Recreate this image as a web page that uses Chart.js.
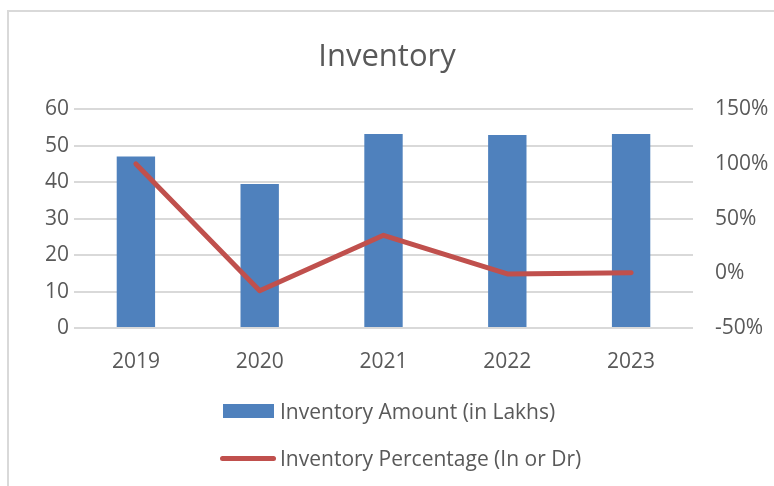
<!DOCTYPE html>
<html lang="en">
<head>
<meta charset="UTF-8" />
<title>Inventory</title>
<script src="https://cdn.jsdelivr.net/npm/chart.js"></script>
<style>
  body { margin: 0; background: #fff; font-family: "Open Sans", sans-serif; }
  #wrap { position: relative; width: 774px; height: 486px; overflow: hidden; }
  #frame { position: absolute; left: 7px; top: 10px; width: 800px; height: 500px;
           border-left: 2px solid #d9d9d9; border-top: 2px solid #d9d9d9; }
  canvas { position: absolute; left: 0; top: 0; }
  #legend { position: absolute; left: 220px; top: 395px; color: #595959; font-size: 21px; }
  .item { display: flex; align-items: center; height: 32px; margin-bottom: 15px; }
  .sw { width: 56px; margin-right: 4px; display: flex; justify-content: center; }
</style>
</head>
<body>
<div id="wrap">
  <div id="frame"></div>
  <canvas id="grafico" width="774" height="486"></canvas>
  <div id="legend"></div>
</div>
<script>
  // datos
  const years = ["2019", "2020", "2021", "2022", "2023"];
  const amounts = [47, 39.5, 53.2, 52.9, 53.2];
  const percents = [1.0, -0.16, 0.347, -0.006, 0.006];
  const leftTicks = [0, 10, 20, 30, 40, 50, 60];
  const rightTicks = [-0.5, 0, 0.5, 1, 1.5];

  const gris = '#595959';
  const fuente = { family: '"Open Sans", sans-serif', size: 21 };

  const chart = new Chart(document.getElementById('grafico'), {
    data: {
      labels: years,
      datasets: [
        {
          type: 'line',
          label: 'Inventory Percentage (In or Dr)',
          data: percents,
          yAxisID: 'y2',
          borderColor: '#C0504D',
          backgroundColor: '#C0504D',
          borderWidth: 5,
          borderCapStyle: 'round',
          borderJoinStyle: 'round',
          pointRadius: 0,
          tension: 0
        },
        {
          type: 'bar',
          label: 'Inventory Amount (in Lakhs)',
          data: amounts,
          yAxisID: 'y',
          backgroundColor: '#4F81BD',
          categoryPercentage: 1,
          barPercentage: 0.31
        }
      ]
    },
    options: {
      responsive: false,
      animation: false,
      layout: { padding: { left: 0, right: 0, top: 0, bottom: 108 } },
      plugins: {
        legend: { display: false },
        tooltip: { enabled: false },
        title: {
          display: true,
          text: 'Inventory',
          color: gris,
          font: { family: '"Open Sans", sans-serif', size: 31, weight: 'normal' },
          padding: { top: 39, bottom: 33 }
        }
      },
      scales: {
        x: {
          grid: { display: false },
          border: { display: false },
          ticks: { color: gris, font: fuente, padding: 13 },
          afterFit: s => { s.height = 50; }
        },
        y: {
          position: 'left',
          min: 0, max: 60,
          afterBuildTicks: s => { s.ticks = leftTicks.map(v => ({ value: v })); },
          grid: { color: '#d9d9d9', lineWidth: 2, drawTicks: false },
          border: { display: false },
          ticks: { color: gris, font: fuente, padding: 5 },
          afterFit: s => { s.width = 74; }
        },
        y2: {
          position: 'right',
          min: -0.5, max: 1.5,
          afterBuildTicks: s => { s.ticks = rightTicks.map(v => ({ value: v })); },
          grid: { display: false, drawTicks: false },
          border: { display: false },
          ticks: {
            color: gris, font: fuente, padding: 22,
            callback: v => Math.round(v * 100) + '%'
          },
          afterFit: s => { s.width = 81; }
        }
      }
    }
  });

  // leyenda en html, dos filas alineadas a la izquierda
  const leyenda = document.getElementById('legend');
  [1, 0].forEach(i => {
    const ds = chart.data.datasets[i];
    const fila = document.createElement('div');
    fila.className = 'item';
    const sw = document.createElement('div');
    sw.className = 'sw';
    const marca = document.createElement('div');
    if (ds.type === 'bar') {
      marca.style.cssText = 'width:51px;height:14px;background:' + ds.backgroundColor;
    } else {
      marca.style.cssText = 'width:56px;height:5px;border-radius:3px;background:' + ds.borderColor;
    }
    sw.appendChild(marca);
    fila.appendChild(sw);
    fila.appendChild(document.createTextNode(ds.label));
    leyenda.appendChild(fila);
  });
</script>
</body>
</html>
